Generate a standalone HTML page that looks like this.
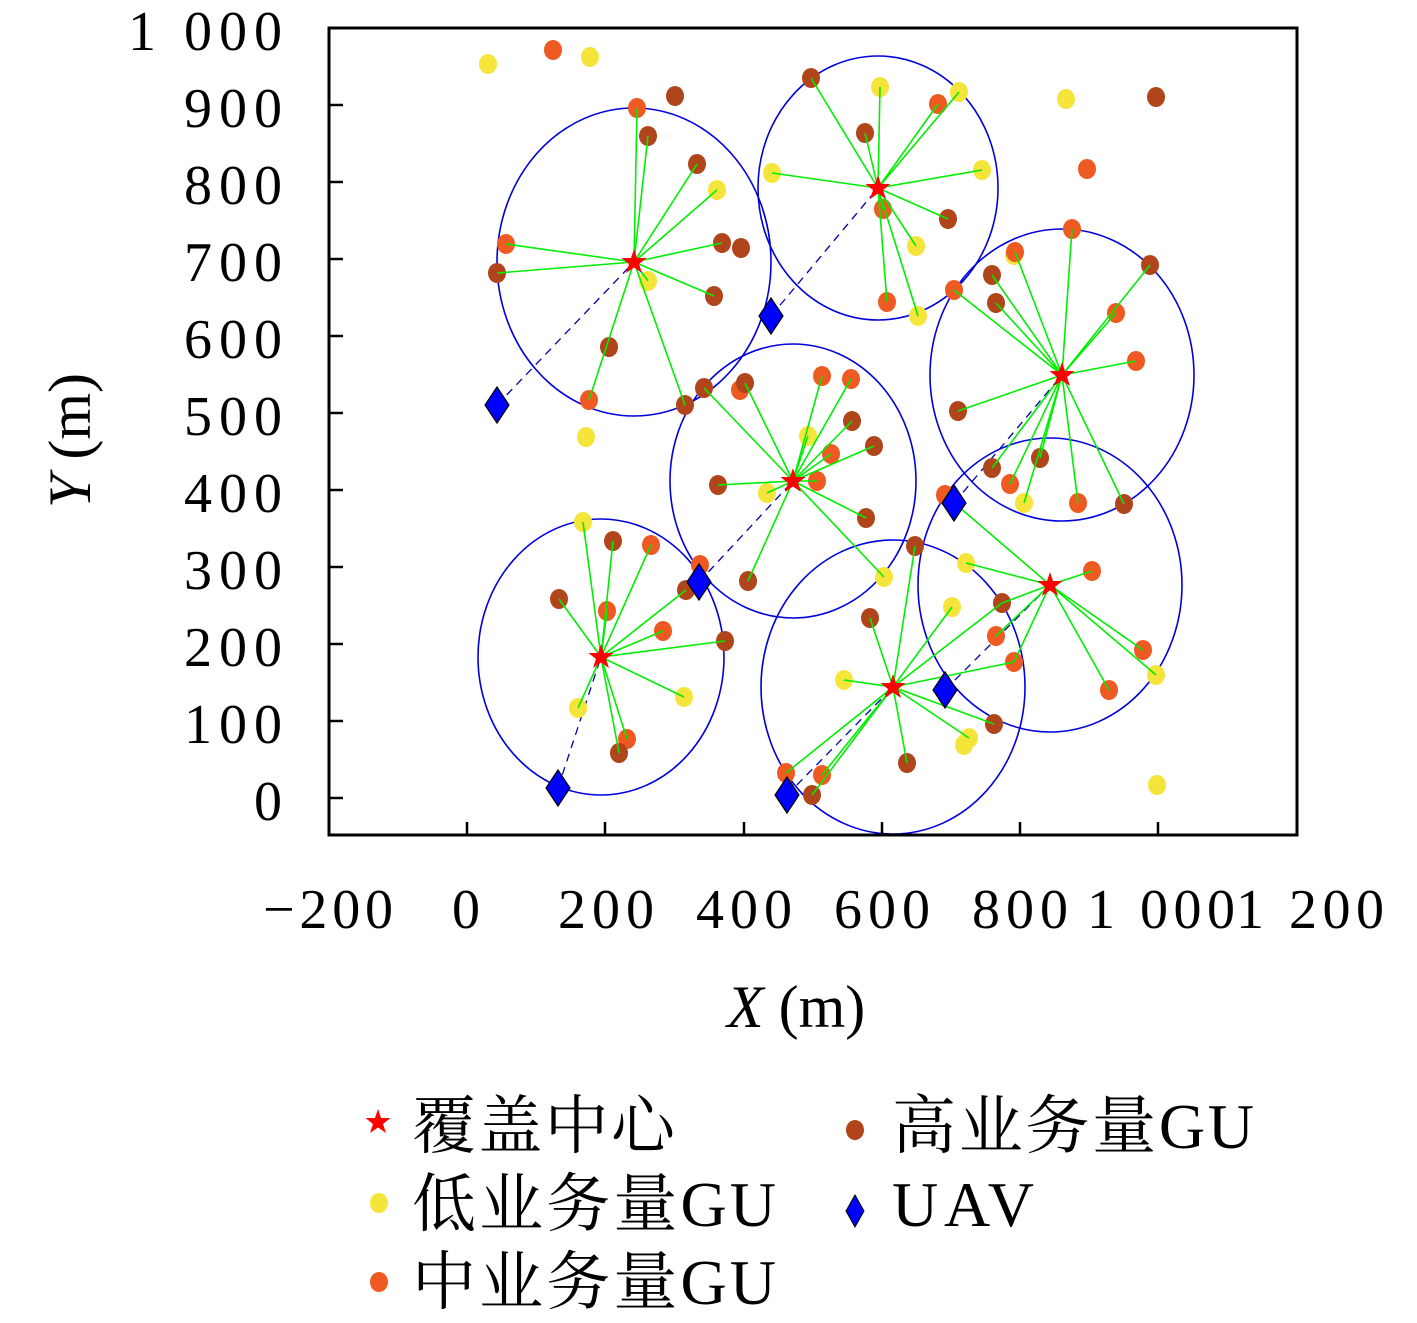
<!DOCTYPE html>
<html><head><meta charset="utf-8"><style>
body{margin:0;background:#fff}
text{font-family:"Liberation Serif","Noto Serif CJK SC",serif;fill:#000}
</style></head><body>
<svg width="1417" height="1318" xmlns="http://www.w3.org/2000/svg">
<defs>
<clipPath id="cp"><rect x="329" y="28" width="968" height="807"/></clipPath>
<polygon id="st" points="0,-13 3,-4 12.5,-4 5,2 8,11 0,5.5 -8,11 -5,2 -12.5,-4 -3,-4" fill="#f00"/>
<polygon id="uv" points="0,-18 12,0 0,18 -12,0" fill="#0000ff" stroke="#000" stroke-width="1.2"/>
</defs>
<g clip-path="url(#cp)">
<g fill="none" stroke="#0000dd" stroke-width="1.6">
<ellipse cx="634" cy="262" rx="137" ry="154"/>
<ellipse cx="878" cy="188" rx="120" ry="132"/>
<ellipse cx="1062" cy="375" rx="132" ry="146"/>
<ellipse cx="793" cy="481" rx="123" ry="137"/>
<ellipse cx="1050" cy="585" rx="132" ry="147"/>
<ellipse cx="893" cy="687" rx="132" ry="147"/>
<ellipse cx="601" cy="657" rx="123" ry="138"/>
</g>
<g stroke="#0000aa" stroke-width="1.3" stroke-dasharray="8,6">
<line x1="497" y1="405" x2="634" y2="262"/>
<line x1="771" y1="316" x2="878" y2="188"/>
<line x1="954" y1="503" x2="1062" y2="375"/>
<line x1="699" y1="582" x2="793" y2="481"/>
<line x1="945" y1="690" x2="1050" y2="585"/>
<line x1="787" y1="795" x2="893" y2="687"/>
<line x1="558" y1="788" x2="601" y2="657"/>
</g>
<g fill="#f5e53a">
<ellipse cx="717" cy="190" rx="9" ry="10"/><ellipse cx="648" cy="281" rx="9" ry="10"/>
<ellipse cx="880" cy="87" rx="9" ry="10"/><ellipse cx="959" cy="92" rx="9" ry="10"/><ellipse cx="772" cy="173" rx="9" ry="10"/><ellipse cx="982" cy="170" rx="9" ry="10"/><ellipse cx="916" cy="246" rx="9" ry="10"/><ellipse cx="918" cy="316" rx="9" ry="10"/>
<ellipse cx="1024" cy="503" rx="9" ry="10"/>
<ellipse cx="808" cy="436" rx="9" ry="10"/><ellipse cx="767" cy="493" rx="9" ry="10"/><ellipse cx="884" cy="577" rx="9" ry="10"/>
<ellipse cx="966" cy="563" rx="9" ry="10"/><ellipse cx="1156" cy="675" rx="9" ry="10"/>
<ellipse cx="952" cy="607" rx="9" ry="10"/><ellipse cx="844" cy="680" rx="9" ry="10"/><ellipse cx="969" cy="738" rx="9" ry="10"/><ellipse cx="964" cy="745" rx="9" ry="10"/>
<ellipse cx="583" cy="522" rx="9" ry="10"/><ellipse cx="684" cy="697" rx="9" ry="10"/><ellipse cx="578" cy="708" rx="9" ry="10"/>
<ellipse cx="488" cy="64" rx="9" ry="10"/><ellipse cx="590" cy="57" rx="9" ry="10"/><ellipse cx="1066" cy="99" rx="9" ry="10"/><ellipse cx="586" cy="437" rx="9" ry="10"/><ellipse cx="1157" cy="785" rx="9" ry="10"/><ellipse cx="1014" cy="255" rx="9" ry="10"/>
</g>
<g fill="#ee5a22">
<ellipse cx="637" cy="108" rx="9" ry="10"/><ellipse cx="506" cy="244" rx="9" ry="10"/><ellipse cx="589" cy="400" rx="9" ry="10"/>
<ellipse cx="938" cy="104" rx="9" ry="10"/><ellipse cx="883" cy="209" rx="9" ry="10"/><ellipse cx="887" cy="302" rx="9" ry="10"/>
<ellipse cx="1072" cy="229" rx="9" ry="10"/><ellipse cx="1015" cy="252" rx="9" ry="10"/><ellipse cx="954" cy="290" rx="9" ry="10"/><ellipse cx="1116" cy="313" rx="9" ry="10"/><ellipse cx="1136" cy="361" rx="9" ry="10"/><ellipse cx="1010" cy="484" rx="9" ry="10"/><ellipse cx="1078" cy="503" rx="9" ry="10"/>
<ellipse cx="740" cy="390" rx="9" ry="10"/><ellipse cx="822" cy="376" rx="9" ry="10"/><ellipse cx="851" cy="379" rx="9" ry="10"/><ellipse cx="831" cy="454" rx="9" ry="10"/><ellipse cx="817" cy="481" rx="9" ry="10"/>
<ellipse cx="945" cy="495" rx="9" ry="10"/><ellipse cx="1092" cy="571" rx="9" ry="10"/><ellipse cx="996" cy="636" rx="9" ry="10"/><ellipse cx="1014" cy="662" rx="9" ry="10"/><ellipse cx="1143" cy="650" rx="9" ry="10"/><ellipse cx="1109" cy="690" rx="9" ry="10"/>
<ellipse cx="786" cy="773" rx="9" ry="10"/><ellipse cx="822" cy="775" rx="9" ry="10"/>
<ellipse cx="651" cy="545" rx="9" ry="10"/><ellipse cx="607" cy="611" rx="9" ry="10"/><ellipse cx="663" cy="631" rx="9" ry="10"/><ellipse cx="627" cy="739" rx="9" ry="10"/>
<ellipse cx="553" cy="50" rx="9" ry="10"/><ellipse cx="1087" cy="169" rx="9" ry="10"/><ellipse cx="700" cy="565" rx="9" ry="10"/>
</g>
<g fill="#b0451c">
<ellipse cx="648" cy="136" rx="9" ry="10"/><ellipse cx="697" cy="164" rx="9" ry="10"/><ellipse cx="722" cy="243" rx="9" ry="10"/><ellipse cx="497" cy="273" rx="9" ry="10"/><ellipse cx="714" cy="296" rx="9" ry="10"/><ellipse cx="685" cy="405" rx="9" ry="10"/><ellipse cx="609" cy="347" rx="9" ry="10"/>
<ellipse cx="811" cy="78" rx="9" ry="10"/><ellipse cx="865" cy="133" rx="9" ry="10"/><ellipse cx="948" cy="219" rx="9" ry="10"/>
<ellipse cx="992" cy="275" rx="9" ry="10"/><ellipse cx="1150" cy="265" rx="9" ry="10"/><ellipse cx="996" cy="303" rx="9" ry="10"/><ellipse cx="958" cy="411" rx="9" ry="10"/><ellipse cx="992" cy="468" rx="9" ry="10"/><ellipse cx="1040" cy="458" rx="9" ry="10"/><ellipse cx="1124" cy="504" rx="9" ry="10"/>
<ellipse cx="704" cy="388" rx="9" ry="10"/><ellipse cx="745" cy="383" rx="9" ry="10"/><ellipse cx="852" cy="421" rx="9" ry="10"/><ellipse cx="874" cy="446" rx="9" ry="10"/><ellipse cx="718" cy="485" rx="9" ry="10"/><ellipse cx="866" cy="518" rx="9" ry="10"/><ellipse cx="748" cy="581" rx="9" ry="10"/>
<ellipse cx="1002" cy="603" rx="9" ry="10"/>
<ellipse cx="915" cy="546" rx="9" ry="10"/><ellipse cx="870" cy="618" rx="9" ry="10"/><ellipse cx="812" cy="795" rx="9" ry="10"/><ellipse cx="907" cy="763" rx="9" ry="10"/><ellipse cx="994" cy="724" rx="9" ry="10"/>
<ellipse cx="613" cy="541" rx="9" ry="10"/><ellipse cx="559" cy="599" rx="9" ry="10"/><ellipse cx="686" cy="590" rx="9" ry="10"/><ellipse cx="725" cy="641" rx="9" ry="10"/><ellipse cx="619" cy="753" rx="9" ry="10"/>
<ellipse cx="675" cy="96" rx="9" ry="10"/><ellipse cx="1156" cy="97" rx="9" ry="10"/><ellipse cx="741" cy="248" rx="9" ry="10"/>
</g>
<g stroke="#00ee00" stroke-width="1.6">
<line x1="634" y1="262" x2="637" y2="108"/><line x1="634" y1="262" x2="648" y2="136"/><line x1="634" y1="262" x2="697" y2="164"/><line x1="634" y1="262" x2="717" y2="190"/><line x1="634" y1="262" x2="722" y2="243"/><line x1="634" y1="262" x2="506" y2="244"/><line x1="634" y1="262" x2="497" y2="273"/><line x1="634" y1="262" x2="648" y2="281"/><line x1="634" y1="262" x2="714" y2="296"/><line x1="634" y1="262" x2="589" y2="400"/><line x1="634" y1="262" x2="685" y2="405"/>
<line x1="878" y1="188" x2="811" y2="78"/><line x1="878" y1="188" x2="880" y2="87"/><line x1="878" y1="188" x2="938" y2="104"/><line x1="878" y1="188" x2="959" y2="92"/><line x1="878" y1="188" x2="865" y2="133"/><line x1="878" y1="188" x2="772" y2="173"/><line x1="878" y1="188" x2="982" y2="170"/><line x1="878" y1="188" x2="883" y2="209"/><line x1="878" y1="188" x2="948" y2="219"/><line x1="878" y1="188" x2="916" y2="246"/><line x1="878" y1="188" x2="887" y2="302"/><line x1="878" y1="188" x2="918" y2="316"/>
<line x1="1062" y1="375" x2="1072" y2="229"/><line x1="1062" y1="375" x2="1015" y2="252"/><line x1="1062" y1="375" x2="992" y2="275"/><line x1="1062" y1="375" x2="1150" y2="265"/><line x1="1062" y1="375" x2="954" y2="290"/><line x1="1062" y1="375" x2="996" y2="303"/><line x1="1062" y1="375" x2="1116" y2="313"/><line x1="1062" y1="375" x2="1136" y2="361"/><line x1="1062" y1="375" x2="958" y2="411"/><line x1="1062" y1="375" x2="992" y2="468"/><line x1="1062" y1="375" x2="1040" y2="458"/><line x1="1062" y1="375" x2="1010" y2="484"/><line x1="1062" y1="375" x2="1024" y2="503"/><line x1="1062" y1="375" x2="1078" y2="503"/><line x1="1062" y1="375" x2="1124" y2="504"/>
<line x1="793" y1="481" x2="704" y2="388"/><line x1="793" y1="481" x2="745" y2="383"/><line x1="793" y1="481" x2="822" y2="376"/><line x1="793" y1="481" x2="851" y2="379"/><line x1="793" y1="481" x2="852" y2="421"/><line x1="793" y1="481" x2="808" y2="436"/><line x1="793" y1="481" x2="874" y2="446"/><line x1="793" y1="481" x2="831" y2="454"/><line x1="793" y1="481" x2="718" y2="485"/><line x1="793" y1="481" x2="767" y2="493"/><line x1="793" y1="481" x2="817" y2="481"/><line x1="793" y1="481" x2="866" y2="518"/><line x1="793" y1="481" x2="748" y2="581"/><line x1="793" y1="481" x2="884" y2="577"/>
<line x1="1050" y1="585" x2="945" y2="495"/><line x1="1050" y1="585" x2="966" y2="563"/><line x1="1050" y1="585" x2="1092" y2="571"/><line x1="1050" y1="585" x2="1002" y2="603"/><line x1="1050" y1="585" x2="996" y2="636"/><line x1="1050" y1="585" x2="1014" y2="662"/><line x1="1050" y1="585" x2="1143" y2="650"/><line x1="1050" y1="585" x2="1156" y2="675"/><line x1="1050" y1="585" x2="1109" y2="690"/>
<line x1="893" y1="687" x2="915" y2="546"/><line x1="893" y1="687" x2="870" y2="618"/><line x1="893" y1="687" x2="952" y2="607"/><line x1="893" y1="687" x2="844" y2="680"/><line x1="893" y1="687" x2="786" y2="773"/><line x1="893" y1="687" x2="822" y2="775"/><line x1="893" y1="687" x2="812" y2="795"/><line x1="893" y1="687" x2="907" y2="763"/><line x1="893" y1="687" x2="969" y2="738"/><line x1="893" y1="687" x2="994" y2="724"/><line x1="893" y1="687" x2="1002" y2="603"/><line x1="893" y1="687" x2="1014" y2="662"/>
<line x1="601" y1="657" x2="583" y2="522"/><line x1="601" y1="657" x2="613" y2="541"/><line x1="601" y1="657" x2="651" y2="545"/><line x1="601" y1="657" x2="559" y2="599"/><line x1="601" y1="657" x2="607" y2="611"/><line x1="601" y1="657" x2="686" y2="590"/><line x1="601" y1="657" x2="663" y2="631"/><line x1="601" y1="657" x2="725" y2="641"/><line x1="601" y1="657" x2="684" y2="697"/><line x1="601" y1="657" x2="578" y2="708"/><line x1="601" y1="657" x2="627" y2="739"/><line x1="601" y1="657" x2="619" y2="753"/>
</g>
<use href="#st" x="634" y="262"/><use href="#st" x="878" y="188"/><use href="#st" x="1062" y="375"/><use href="#st" x="793" y="481"/><use href="#st" x="1050" y="585"/><use href="#st" x="893" y="687"/><use href="#st" x="601" y="657"/>
<use href="#uv" x="497" y="405"/><use href="#uv" x="771" y="316"/><use href="#uv" x="954" y="503"/><use href="#uv" x="699" y="582"/><use href="#uv" x="945" y="690"/><use href="#uv" x="787" y="795"/><use href="#uv" x="558" y="788"/>
</g>
<rect x="329" y="28" width="968" height="807" fill="none" stroke="#000" stroke-width="3"/>
<g stroke="#000" stroke-width="2.5">
<line x1="329" y1="798" x2="343" y2="798"/><line x1="329" y1="721" x2="343" y2="721"/><line x1="329" y1="644" x2="343" y2="644"/><line x1="329" y1="567" x2="343" y2="567"/><line x1="329" y1="490" x2="343" y2="490"/><line x1="329" y1="413" x2="343" y2="413"/><line x1="329" y1="336" x2="343" y2="336"/><line x1="329" y1="259" x2="343" y2="259"/><line x1="329" y1="182" x2="343" y2="182"/><line x1="329" y1="105" x2="343" y2="105"/>
<line x1="467" y1="835" x2="467" y2="822"/><line x1="605" y1="835" x2="605" y2="822"/><line x1="744" y1="835" x2="744" y2="822"/><line x1="882" y1="835" x2="882" y2="822"/><line x1="1020" y1="835" x2="1020" y2="822"/><line x1="1158" y1="835" x2="1158" y2="822"/>
</g>
<g font-size="56" text-anchor="end">
<text x="282" y="50" textLength="154">1 000</text><text x="282" y="127" textLength="98">900</text><text x="282" y="204" textLength="98">800</text><text x="282" y="281" textLength="98">700</text><text x="282" y="358" textLength="98">600</text><text x="282" y="435" textLength="98">500</text><text x="282" y="512" textLength="98">400</text><text x="282" y="589" textLength="98">300</text><text x="282" y="666" textLength="98">200</text><text x="282" y="743" textLength="98">100</text><text x="282" y="820">0</text>
</g>
<g font-size="56">
<text x="263" y="928" textLength="130">−200</text><text x="452" y="928">0</text><text x="558" y="928" textLength="96">200</text><text x="696" y="928" textLength="96">400</text><text x="834" y="928" textLength="96">600</text><text x="972" y="928" textLength="96">800</text><text x="1087" y="928" textLength="148">1 000</text><text x="1236" y="928" textLength="148">1 200</text>
<text x="727" y="1027" font-size="60"><tspan font-style="italic">X</tspan> (m)</text>
<text transform="translate(90,508) rotate(-90)" font-size="60"><tspan font-style="italic">Y</tspan> (m)</text>
</g>
<g font-size="64">
<use href="#st" x="378" y="1122"/>
<text x="412" y="1148" textLength="263">覆盖中心</text>
<ellipse cx="379" cy="1203" rx="9" ry="10" fill="#f5e53a"/>
<text x="412" y="1226" textLength="364">低业务量GU</text>
<ellipse cx="379" cy="1282" rx="9" ry="10" fill="#ee5a22"/>
<text x="412" y="1304" textLength="364">中业务量GU</text>
<ellipse cx="855" cy="1130" rx="9" ry="10" fill="#b0451c"/>
<text x="892" y="1148" textLength="362">高业务量GU</text>
<polygon points="855,1195 864,1211 855,1227 846,1211" fill="#0000ff" stroke="#000" stroke-width="1"/>
<text x="892" y="1226" textLength="142">UAV</text>
</g>
</svg>
</body></html>
